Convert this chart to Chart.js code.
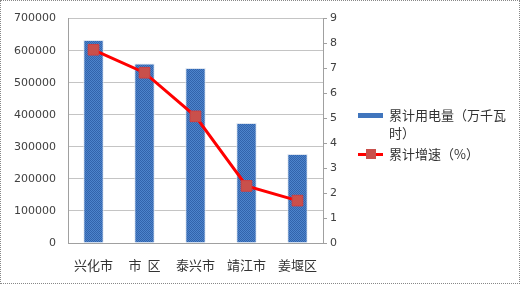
<!DOCTYPE html>
<html>
<head>
<meta charset="utf-8">
<script src="https://cdn.jsdelivr.net/npm/chart.js@4.4.0/dist/chart.umd.min.js"></script>
<style>
  html, body { margin: 0; padding: 0; background: #fff; }
  #wrap { position: relative; width: 522px; height: 285px; }
  #frame { position: absolute; left: 0; top: 0; width: 518px; height: 282px; border: 1px dotted #888; }
  canvas { position: absolute; left: 0; top: 0; }
  #legend { position: absolute; left: 358px; top: 106px; font-family: "Noto Sans CJK SC", sans-serif; font-size: 13px; color: #333; }
  .item { display: flex; align-items: flex-start; margin-bottom: 3px; }
  .sw { width: 25px; height: 18px; position: relative; flex: none; margin-right: 6px; }
  .txt { width: 122px; line-height: 18px; }
</style>
</head>
<body>
<div id="wrap">
  <canvas id="chart" width="522" height="285"></canvas>
  <div id="frame"></div>
  <div id="legend"></div>
</div>
<script>
// Chart data
const districts = ['兴化市', '市  区', '泰兴市', '靖江市', '姜堰区'];
const electricity = [633000, 560000, 546000, 374000, 278000];
const growthRate = [7.75, 6.83, 5.08, 2.29, 1.70];
const seriesNames = ['累计用电量（万千瓦时）', '累计增速（%）'];

// Dotted blue fill like the original bars
function barPattern() {
    const c = document.createElement('canvas');
    c.width = 2; c.height = 2;
    const g = c.getContext('2d');
    g.fillStyle = '#4d84cc';
    g.fillRect(0, 0, 2, 2);
    g.fillStyle = '#3263ab';
    g.fillRect(0, 0, 1, 1);
    g.fillRect(1, 1, 1, 1);
    return g.createPattern(c, 'repeat');
}

const ctx = document.getElementById('chart').getContext('2d');
const pattern = barPattern();
const numFont = { family: 'DejaVu Sans', size: 11 };

const chart = new Chart(ctx, {
    type: 'bar',
    data: {
        labels: districts,
        datasets: [{
            type: 'bar',
            label: seriesNames[0],
            data: electricity,
            backgroundColor: pattern,
            borderColor: '#dfe6f0',
            borderWidth: 1,
            categoryPercentage: 1,
            barPercentage: 0.4,
            yAxisID: 'y',
            order: 2
        }, {
            type: 'line',
            label: seriesNames[1],
            data: growthRate,
            borderColor: '#ff0000',
            borderWidth: 3,
            pointStyle: 'rect',
            pointRadius: 7.5,
            pointBackgroundColor: '#c9504b',
            pointBorderColor: '#d04040',
            pointBorderWidth: 1,
            tension: 0,
            yAxisID: 'y1',
            order: 1
        }]
    },
    options: {
        responsive: false,
        animation: false,
        layout: { padding: { left: 0, right: 177, top: 15, bottom: 0 } },
        plugins: { legend: { display: false }, tooltip: { enabled: false } },
        scales: {
            x: {
                grid: { display: false },
                border: { color: '#a0a0a0' },
                ticks: {
                    color: '#333',
                    padding: 6,
                    font: { family: 'Noto Sans CJK SC', size: 13 }
                },
                afterFit: (s) => { s.height = 42; }
            },
            y: {
                position: 'left',
                min: 0,
                max: 700000,
                grid: { color: '#c4c4c4', drawTicks: false },
                border: { color: '#a0a0a0' },
                ticks: { stepSize: 100000, color: '#404040', padding: 12, font: numFont, callback: (v) => String(v) },
                afterFit: (s) => { s.width = 68; }
            },
            y1: {
                position: 'right',
                min: 0,
                max: 9,
                grid: { drawOnChartArea: false, color: '#a0a0a0', tickLength: 4 },
                border: { color: '#a0a0a0' },
                ticks: { stepSize: 1, color: '#404040', padding: 3, font: numFont },
                afterFit: (s) => { s.width = 22; }
            }
        }
    }
});

// Legend built from the datasets
const legend = document.getElementById('legend');
chart.data.datasets.forEach((ds) => {
    const item = document.createElement('div');
    item.className = 'item';
    const sw = document.createElement('div');
    sw.className = 'sw';
    if (ds.type === 'bar') {
        sw.innerHTML = '<div style="position:absolute;left:0;top:7px;width:25px;height:5px;background:#4075bd"></div>';
    } else {
        sw.innerHTML = '<div style="position:absolute;left:0;top:8px;width:25px;height:3px;background:#ff0000"></div>' +
            '<div style="position:absolute;left:8px;top:4px;width:10px;height:10px;background:#c9504b"></div>';
    }
    const txt = document.createElement('div');
    txt.className = 'txt';
    txt.textContent = ds.label;
    item.appendChild(sw);
    item.appendChild(txt);
    legend.appendChild(item);
});
</script>
</body>
</html>
